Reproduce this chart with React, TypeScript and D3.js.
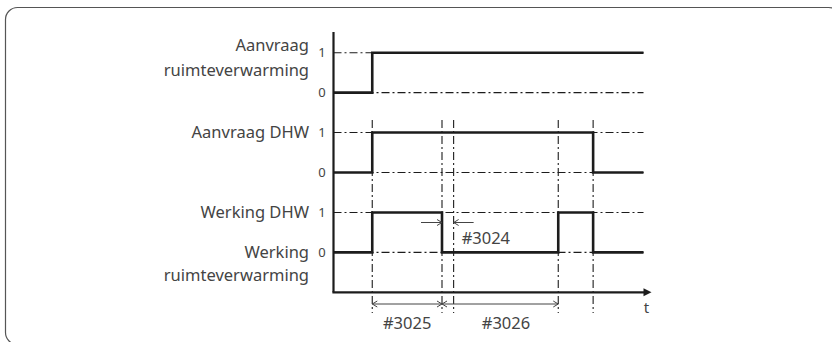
import React from "react";
import * as d3 from "d3";

// ---- data ----
const rowLabels: string[][] = [
  ["Aanvraag", "ruimteverwarming"],
  ["Aanvraag DHW"],
  ["Werking DHW"],
  ["Werking", "ruimteverwarming"],
];
const levelTicks = ["1", "0", "1", "0", "1", "0"];
// step signals: times and values (value held until next time)
const demandSpaceTimes = [0, 1.0, 8];
const demandSpaceValues = [0, 1, 1];
const demandDhwTimes = [0, 1.0, 6.7, 8];
const demandDhwValues = [0, 1, 0, 0];
const opDhwTimes = [0, 1.0, 2.8, 5.8, 6.7, 8];
const opDhwValues = [0, 1, 0, 1, 0, 0];
// event markers (vertical dash-dot lines)
const eventTimes = [1.0, 2.8, 3.1, 5.8, 6.7];
// parameter annotations
const dimLabels = ["#3025", "#3026"];
const dimStart = [1.0, 2.8];
const dimEnd = [2.8, 5.8];
const gapLabel = "#3024";
const gapStart = 2.8;
const gapEnd = 3.1;

const W = 832;
const H = 342;
const FONT = "'Noto Sans', 'Open Sans', sans-serif";
const TEXT = "#444";
const LINE = "#1c1c1c";

export default function App() {
  const x = d3.scaleLinear().domain([0, 8]).range([333.5, 643.5]);
  const y = d3.scaleLinear().domain([0, 6]).range([52.7, 292.3]);
  const lvl = (row: number, v: number) => y(2 * row + (1 - v));

  const step = (row: number) =>
    d3
      .line<[number, number]>()
      .x((d) => x(d[0]))
      .y((d) => lvl(row, d[1]))
      .curve(d3.curveStepAfter);

  const signals = [
    { row: 0, t: demandSpaceTimes, v: demandSpaceValues },
    { row: 1, t: demandDhwTimes, v: demandDhwValues },
    { row: 2, t: opDhwTimes, v: opDhwValues },
  ];

  const dashArr = "8,3,2,3";
  const axisY = y(6);
  const x0 = x(0);
  const xEnd = x(8);

  const arrowHead = (tipX: number, tipY: number, dir: number, key: string) => (
    <path
      key={key}
      d={`M${tipX - dir * 5},${tipY - 3}L${tipX},${tipY}L${tipX - dir * 5},${tipY + 3}`}
      fill="none"
      stroke={TEXT}
      strokeWidth={1}
    />
  );

  const labelLines: { text: string; cy: number }[] = [
    { text: rowLabels[0][0], cy: 45 },
    { text: rowLabels[0][1], cy: 70 },
    { text: rowLabels[1][0], cy: lvl(1, 1) },
    { text: rowLabels[2][0], cy: lvl(2, 1) },
    { text: rowLabels[3][0], cy: lvl(2, 0) },
    { text: rowLabels[3][1], cy: 275 },
  ];

  const dimY = 304;
  const gapY = 222.5;

  return (
    <svg
      width={W}
      height={H}
      style={{ position: "absolute", left: 0, top: 0, background: "#fff" }}
      fontFamily={FONT}
    >
      <rect x={5.5} y={7.5} width={835} height={337} rx={12} fill="none" stroke="#555" strokeWidth={1.2} />

      {/* dash-dot reference levels */}
      {levelTicks.map((_, k) => (
        <line
          key={"h" + k}
          x1={x0}
          x2={xEnd}
          y1={y(k)}
          y2={y(k)}
          stroke={LINE}
          strokeWidth={1.1}
          strokeDasharray={dashArr}
        />
      ))}

      {/* event verticals */}
      {eventTimes.map((t, i) => (
        <line
          key={"v" + i}
          x1={x(t)}
          x2={x(t)}
          y1={120}
          y2={313}
          stroke={LINE}
          strokeWidth={1.1}
          strokeDasharray={dashArr}
        />
      ))}

      {/* signals */}
      {signals.map((s, i) => (
        <path
          key={"s" + i}
          d={step(s.row)(s.t.map((t, j) => [t, s.v[j]] as [number, number])) || ""}
          fill="none"
          stroke={LINE}
          strokeWidth={2.6}
        />
      ))}

      {/* axes */}
      <line x1={x0} x2={x0} y1={32} y2={axisY} stroke={LINE} strokeWidth={2.2} />
      <line x1={x0 - 1.1} x2={xEnd + 1} y1={axisY} y2={axisY} stroke={LINE} strokeWidth={2.2} />
      <path d={`M${xEnd},${axisY - 4}L${xEnd + 8},${axisY}L${xEnd},${axisY + 4}Z`} fill={LINE} />
      <text x={xEnd + 3} y={313} fontSize={15} fill={TEXT} textAnchor="middle">t</text>

      {/* tick labels */}
      {levelTicks.map((s, k) => (
        <text key={"t" + k} x={322} y={y(k)} dy="0.35em" fontSize={13} fill={TEXT} textAnchor="middle">
          {s}
        </text>
      ))}

      {/* row labels */}
      {labelLines.map((l, i) => (
        <text key={"l" + i} x={309} y={l.cy} dy="0.35em" fontSize={16.5} fill={TEXT} textAnchor="end">
          {l.text}
        </text>
      ))}

      {/* #3024 gap annotation */}
      <line x1={x(gapStart) - 21} x2={x(gapStart)} y1={gapY} y2={gapY} stroke={TEXT} strokeWidth={1} />
      {arrowHead(x(gapStart), gapY, 1, "ga")}
      <line x1={x(gapEnd)} x2={x(gapEnd) + 20} y1={gapY} y2={gapY} stroke={TEXT} strokeWidth={1} />
      {arrowHead(x(gapEnd), gapY, -1, "gb")}
      <text x={x(gapEnd) + 8} y={244} fontSize={16.5} fill={TEXT}>{gapLabel}</text>

      {/* dimension annotations */}
      {dimLabels.map((lab, i) => {
        const a = x(dimStart[i]);
        const b = x(dimEnd[i]);
        return (
          <g key={"d" + i}>
            <line x1={a} x2={b} y1={dimY} y2={dimY} stroke={TEXT} strokeWidth={1} />
            {arrowHead(a, dimY, -1, "da" + i)}
            {arrowHead(b, dimY, 1, "db" + i)}
            <text x={i === 0 ? (a + b) / 2 : (x(gapEnd) + b) / 2} y={329} fontSize={16.5} fill={TEXT} textAnchor="middle">
              {lab}
            </text>
          </g>
        );
      })}
    </svg>
  );
}
